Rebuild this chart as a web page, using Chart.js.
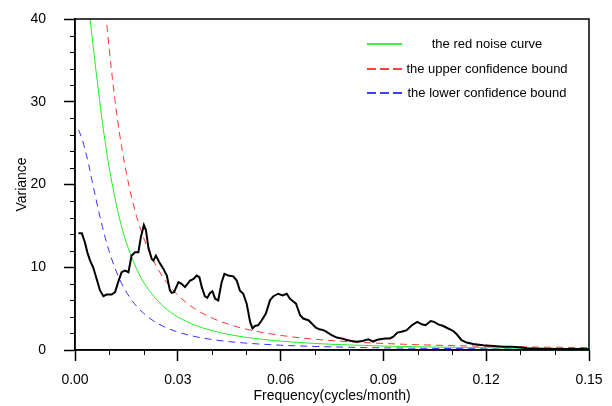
<!DOCTYPE html>
<html>
<head>
<meta charset="utf-8">
<script src="https://cdn.jsdelivr.net/npm/chart.js@4"></script>
<style>
  html, body { margin: 0; padding: 0; background: #fff; }
  #wrap { width: 612px; height: 406px; }
</style>
</head>
<body>
<div id="wrap"><canvas id="spectrumChart" width="612" height="406"></canvas></div>
<script>
// observed power spectrum (black curve)
const specFreq = [0.0010, 0.0020, 0.0029, 0.0036, 0.0044, 0.0053, 0.0063, 0.0073, 0.0083, 0.0092,
  0.0107, 0.0117, 0.0126, 0.0136, 0.0146, 0.0156, 0.0165, 0.0175, 0.0185, 0.0192,
  0.0201, 0.0207, 0.0214, 0.0224, 0.0229, 0.0236, 0.0246, 0.0258, 0.0268, 0.0277,
  0.0282, 0.0289, 0.0302, 0.0311, 0.0321, 0.0336, 0.0346, 0.0355, 0.0363, 0.0370,
  0.0379, 0.0386, 0.0394, 0.0401, 0.0409, 0.0418, 0.0428, 0.0436, 0.0447, 0.0462,
  0.0472, 0.0481, 0.0491, 0.0501, 0.0511, 0.0518, 0.0525, 0.0535, 0.0545, 0.0557,
  0.0569, 0.0579, 0.0593, 0.0606, 0.0618, 0.0627, 0.0645, 0.0657, 0.0666, 0.0681,
  0.0691, 0.0703, 0.0713, 0.0725, 0.0734, 0.0749, 0.0764, 0.0778, 0.0793, 0.0807,
  0.0822, 0.0839, 0.0856, 0.0861, 0.0870, 0.0880, 0.0890, 0.0905, 0.0919, 0.0929,
  0.0941, 0.0953, 0.0968, 0.0983, 0.0999, 0.1012, 0.1023, 0.1038, 0.1048, 0.1060,
  0.1075, 0.1089, 0.1104, 0.1114, 0.1128, 0.1143, 0.1162, 0.1191, 0.1221, 0.1250,
  0.1274, 0.1298, 0.1318, 0.1357, 0.1406, 0.1454, 0.1500];
const specValue = [14.1, 14.1, 13.0, 11.8, 10.8, 10.0, 8.6, 7.2, 6.5, 6.7,
  6.7, 7.0, 8.2, 9.4, 9.6, 9.4, 11.4, 11.8, 11.8, 13.6,
  15.1, 14.5, 12.4, 11.0, 10.8, 11.4, 10.6, 9.8, 9.0, 7.2,
  6.9, 7.0, 8.2, 8.0, 7.6, 8.4, 8.6, 9.0, 8.8, 7.6,
  6.5, 6.3, 6.9, 7.1, 6.2, 6.0, 8.2, 9.2, 9.0, 8.9,
  8.4, 7.2, 6.8, 5.6, 3.4, 2.6, 2.9, 3.0, 3.6, 4.4,
  6.0, 6.5, 6.8, 6.6, 6.8, 6.2, 5.6, 4.2, 3.8, 3.6,
  3.2, 2.7, 2.5, 2.4, 2.2, 1.8, 1.5, 1.4, 1.2, 1.1,
  1.0, 1.1, 1.3, 1.2, 1.0, 1.2, 1.3, 1.4, 1.4, 1.6,
  2.1, 2.2, 2.4, 3.0, 3.4, 3.1, 3.0, 3.5, 3.4, 3.1,
  2.9, 2.6, 2.3, 1.9, 1.2, 0.9, 0.72, 0.56, 0.48, 0.40,
  0.40, 0.32, 0.20, 0.16, 0.12, 0.12, 0.12];

// red noise curve and confidence bounds
const curveFreq = [0.001, 0.002, 0.003, 0.004, 0.005, 0.006, 0.007, 0.008, 0.009, 0.010,
  0.012, 0.014, 0.016, 0.018, 0.020, 0.023, 0.026, 0.030, 0.035, 0.040,
  0.045, 0.050, 0.060, 0.070, 0.080, 0.090, 0.100, 0.110, 0.120, 0.130, 0.140, 0.150];
const redNoise = [49.2, 47.4, 44.7, 41.4, 37.8, 34.2, 30.8, 27.5, 24.6, 22.0,
  17.7, 14.3, 11.8, 9.8, 8.2, 6.5, 5.2, 4.0, 3.0, 2.34,
  1.87, 1.53, 1.07, 0.79, 0.61, 0.48, 0.39, 0.32, 0.27, 0.23, 0.20, 0.17];
const upperBound = [81.2, 78.2, 73.8, 68.3, 62.4, 56.4, 50.7, 45.4, 40.6, 36.3,
  29.1, 23.6, 19.4, 16.1, 13.6, 10.7, 8.6, 6.63, 4.98, 3.86,
  3.09, 2.52, 1.77, 1.30, 1.00, 0.79, 0.64, 0.53, 0.45, 0.38, 0.33, 0.29];
const lowerBound = [26.6, 25.6, 24.1, 22.4, 20.4, 18.5, 16.6, 14.9, 13.3, 11.9,
  9.53, 7.72, 6.35, 5.28, 4.44, 3.49, 2.81, 2.17, 1.63, 1.26,
  1.01, 0.83, 0.58, 0.43, 0.33, 0.26, 0.21, 0.17, 0.15, 0.12, 0.11, 0.09];

const legendLabels = ['the red noise curve', 'the upper confidence bound', 'the lower confidence bound'];
const FONT = '"Liberation Sans", Arial, Helvetica, sans-serif';

function zip(xs, ys) {
    return xs.map((x, i) => ({ x: x, y: ys[i] }));
}

// minor ticks + frame + legend drawn on the canvas
const extras = {
    id: 'extras',
    afterDraw(chart) {
        const ctx = chart.ctx;
        const a = chart.chartArea;
        const xs = chart.scales.x, ys = chart.scales.y;
        ctx.save();
        ctx.strokeStyle = '#000';
        ctx.lineWidth = 1;
        for (let i = 1; i < 15; i++) {
            if (i % 3 === 0) continue;
            const px = Math.round(xs.getPixelForValue(i / 100)) + 0.5;
            ctx.beginPath(); ctx.moveTo(px, a.bottom); ctx.lineTo(px, a.bottom + 5); ctx.stroke();
        }
        for (let v = 2; v < 40; v += 2) {
            if (v % 10 === 0) continue;
            const py = Math.round(ys.getPixelForValue(v)) + 0.5;
            ctx.beginPath(); ctx.moveTo(a.left, py); ctx.lineTo(a.left - 5, py); ctx.stroke();
        }
        ctx.lineWidth = 1.5;
        ctx.strokeRect(a.left, a.top, a.right - a.left, a.bottom - a.top);

        // legend
        const styles = [
            { color: '#00ee00', dash: [] },
            { color: '#ff0000', dash: [9, 4] },
            { color: '#0000ff', dash: [9, 4] }
        ];
        const rows = [44, 69, 93];
        ctx.font = '13px ' + FONT;
        ctx.textAlign = 'center';
        ctx.textBaseline = 'middle';
        legendLabels.forEach((lab, i) => {
            ctx.strokeStyle = styles[i].color;
            ctx.lineWidth = 1.3;
            ctx.setLineDash(styles[i].dash);
            ctx.beginPath(); ctx.moveTo(367, rows[i]); ctx.lineTo(402, rows[i]); ctx.stroke();
            ctx.setLineDash([]);
            ctx.fillStyle = '#000';
            ctx.fillText(lab, 487, rows[i]);
        });
        ctx.restore();
    }
};

document.addEventListener('DOMContentLoaded', function () {
    const ctx = document.getElementById('spectrumChart').getContext('2d');
    new Chart(ctx, {
        type: 'line',
        data: {
            datasets: [{
                label: 'spectrum',
                data: zip(specFreq, specValue),
                borderColor: '#000',
                borderWidth: 2,
                pointRadius: 0,
                tension: 0
            }, {
                label: legendLabels[0],
                data: zip(curveFreq, redNoise),
                borderColor: '#22ee22',
                borderWidth: 1,
                pointRadius: 0,
                cubicInterpolationMode: 'monotone'
            }, {
                label: legendLabels[1],
                data: zip(curveFreq, upperBound),
                borderColor: '#ff3333',
                borderWidth: 1,
                borderDash: [7, 5],
                pointRadius: 0,
                cubicInterpolationMode: 'monotone'
            }, {
                label: legendLabels[2],
                data: zip(curveFreq, lowerBound),
                borderColor: '#3333ff',
                borderWidth: 1,
                borderDash: [7, 5],
                pointRadius: 0,
                cubicInterpolationMode: 'monotone'
            }]
        },
        options: {
            responsive: false,
            animation: false,
            layout: { padding: { top: 19, right: 23, left: 0, bottom: 0 } },
            plugins: {
                legend: { display: false },
                tooltip: { enabled: false }
            },
            scales: {
                x: {
                    type: 'linear',
                    min: 0,
                    max: 0.15,
                    ticks: {
                        stepSize: 0.03,
                        color: '#000',
                        font: { family: FONT, size: 14 },
                        padding: 11,
                        maxRotation: 0,
                        callback: (v) => v.toFixed(2)
                    },
                    grid: { drawOnChartArea: false, tickLength: 11, tickWidth: 1.5, tickColor: '#000' },
                    border: { color: '#000', width: 1.5 },
                    title: {
                        display: true,
                        text: 'Frequency(cycles/month)',
                        color: '#000',
                        font: { family: FONT, size: 14 },
                        padding: { top: 0, bottom: 1 }
                    },
                    afterFit: (s) => { s.height = 56; s.paddingLeft = 0; s.paddingRight = 0; }
                },
                y: {
                    min: 0,
                    max: 40,
                    ticks: {
                        stepSize: 10,
                        color: '#000',
                        font: { family: FONT, size: 14 },
                        padding: 18
                    },
                    grid: { drawOnChartArea: false, tickLength: 11, tickWidth: 1.5, tickColor: '#000' },
                    border: { color: '#000', width: 1.5 },
                    title: {
                        display: true,
                        text: 'Variance',
                        color: '#000',
                        font: { family: FONT, size: 14 },
                        padding: { top: 14, bottom: 0 }
                    },
                    afterFit: (s) => { s.width = 75; s.paddingTop = 0; s.paddingBottom = 0; }
                }
            }
        },
        plugins: [extras]
    });
});
</script>
</body>
</html>
